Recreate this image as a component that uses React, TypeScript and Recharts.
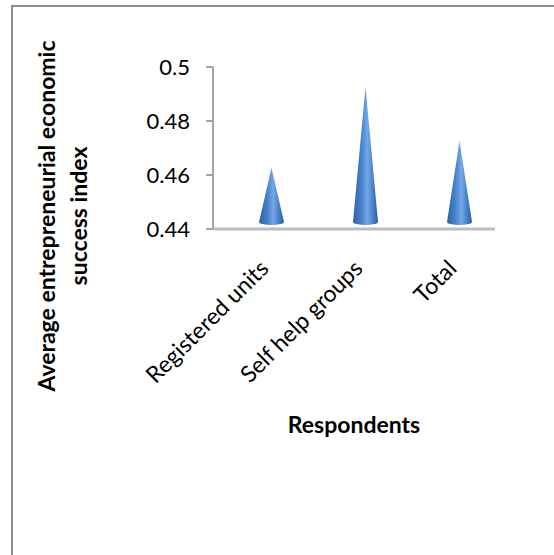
import { BarChart, Bar, XAxis, YAxis, Label } from 'recharts'

const categories = ['Registered units', 'Self help groups', 'Total']
const successIndex = [0.46, 0.49, 0.47]
const yTicks = [0.44, 0.46, 0.48, 0.5]

const data = categories.map((name, i) => ({ name, value: successIndex[i] }))

const FONT = "Lato, 'Open Sans', sans-serif"
// 3D depth offset of the cones relative to the front plane
const DX = 11
const DY = -7

// eslint-disable-next-line @typescript-eslint/no-explicit-any
function Cone(props: any) {
  const { x, y, width, height, index } = props
  const cx = x + width / 2 + DX
  const by = y + height + DY
  const ty = y + DY
  const r = width / 2
  const id = `coneGrad${index}`
  return (
    <g>
      <defs>
        <linearGradient id={id} x1="0" y1="0" x2="1" y2="0">
          <stop offset="0%" stopColor="#2c62a6" />
          <stop offset="35%" stopColor="#4a84cc" />
          <stop offset="58%" stopColor="#72a8e8" />
          <stop offset="80%" stopColor="#4680c6" />
          <stop offset="100%" stopColor="#2a5e9f" />
        </linearGradient>
      </defs>
      <path
        d={`M${cx - r},${by} L${cx},${ty} L${cx + r},${by} A${r},3 0 0 1 ${cx - r},${by} Z`}
        fill={`url(#${id})`}
      />
    </g>
  )
}

// eslint-disable-next-line @typescript-eslint/no-explicit-any
function XTick({ x, y, payload }: any) {
  const tx = x + 10
  const ty = y + 33
  return (
    <text
      x={tx}
      y={ty}
      transform={`rotate(-45, ${tx}, ${ty})`}
      textAnchor="end"
      fontFamily={FONT}
      fontSize={23}
      fill="#000"
    >
      {payload.value}
    </text>
  )
}

function YTitle() {
  return (
    <text
      transform="translate(0, 216) rotate(-90)"
      textAnchor="middle"
      fontFamily={FONT}
      fontSize={23}
      fontWeight="bold"
      fill="#000"
    >
      <tspan x={0} y={55}>Average entrepreneurial economic</tspan>
      <tspan x={0} y={87}>success index</tspan>
    </text>
  )
}

function XTitle() {
  return (
    <text x={354} y={433} textAnchor="middle" fontFamily={FONT} fontSize={23} fontWeight="bold" fill="#000">
      Respondents
    </text>
  )
}

export default function App() {
  return (
    <div style={{ position: 'fixed', left: 0, top: 0, width: 554, height: 555, overflow: 'hidden', background: '#fff' }}>
      <div style={{
        position: 'absolute', left: 11, top: 5, width: 600, height: 548,
        borderTop: '2px solid #8e8e8e', borderLeft: '2px solid #8e8e8e', borderBottom: '1px solid #e2e2e2',
      }} />
      <div style={{ position: 'absolute', left: 0, top: 0 }}>
        <BarChart width={554} height={555} data={data} margin={{ top: 67, right: 59, left: 0, bottom: 0 }}>
          <XAxis
            dataKey="name"
            height={326}
            tickLine={false}
            axisLine={{ stroke: '#bdbdbd', strokeWidth: 3 }}
            tick={<XTick />}
            interval={0}
          >
            <Label content={<XTitle />} />
          </XAxis>
          <YAxis
            width={213}
            domain={[0.44, 0.5]}
            ticks={yTicks}
            allowDataOverflow
            axisLine={{ stroke: '#a6a6a6', strokeWidth: 2 }}
            tickLine={{ stroke: '#a6a6a6', strokeWidth: 2 }}
            tickSize={7}
            tickMargin={16}
            tick={{ fontFamily: FONT, fontSize: 22, fill: '#000' }}
          >
            <Label content={<YTitle />} />
          </YAxis>
          <Bar dataKey="value" barSize={25} shape={<Cone />} isAnimationActive={false} />
        </BarChart>
      </div>
    </div>
  )
}
